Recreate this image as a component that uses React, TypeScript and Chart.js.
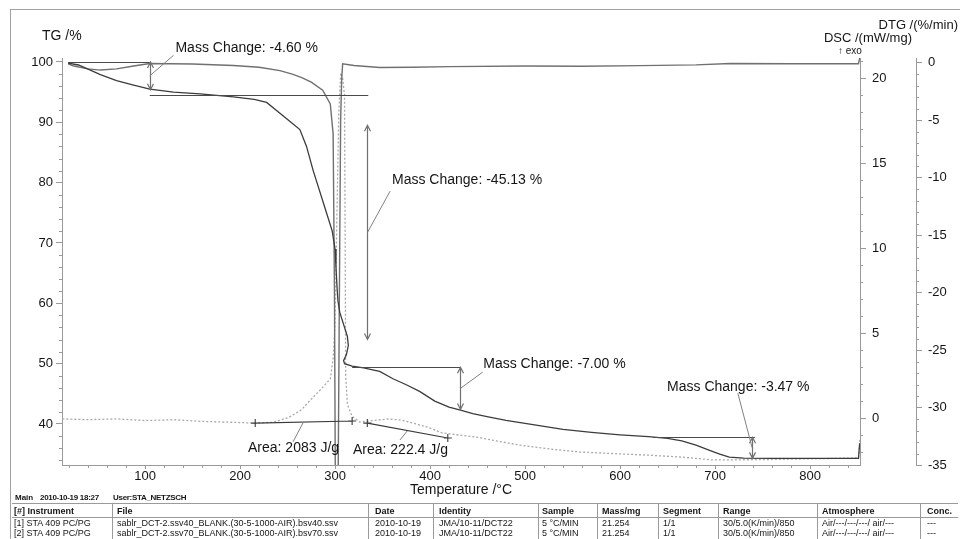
import React, { useEffect, useRef } from "react";
import { Chart, registerables } from "chart.js";

Chart.register(...registerables);

const FONT = '"Liberation Sans", Arial, Helvetica, sans-serif';

// ---------------- data (temperature °C -> value) ----------------
const tgTemp = [19, 30, 53, 70, 87, 105, 130, 158, 193, 215, 228, 242, 252, 263, 270, 277, 283, 290, 297, 300, 301, 302, 303, 305, 309, 313, 314, 312, 309, 310, 318, 330, 347, 361, 375, 389, 405, 420, 432, 445, 460, 480, 500, 520, 540, 570, 600, 630, 650, 665, 680, 695, 705, 715, 730, 760, 800, 851, 852.3];
const tgValue = [99.8, 99.5, 97.9, 96.9, 96.2, 95.5, 95.0, 94.7, 94.2, 93.8, 93.3, 91.5, 90.2, 88.8, 86.0, 82.0, 79.0, 75.5, 72.0, 69.0, 66.0, 63.0, 60.5, 58.5, 56.5, 54.5, 53.0, 51.5, 50.5, 50.0, 49.6, 49.3, 48.7, 47.5, 46.5, 45.4, 43.8, 42.8, 42.3, 41.7, 41.2, 40.6, 40.1, 39.6, 39.1, 38.6, 38.2, 37.9, 37.6, 37.2, 36.5, 35.6, 35.0, 34.5, 34.35, 34.3, 34.3, 34.3, 36.8];

const dtgTemp = [19, 25, 40, 53, 70, 88, 105, 150, 193, 220, 242, 255, 265, 275, 287, 295, 298, 299.4, 300.3, 303.3, 304.6, 305.9, 307, 308, 320, 347, 380, 421, 500, 560, 621, 680, 716, 780, 851, 852.3];
const dtgValue = [-0.1, -0.3, -0.55, -0.65, -0.55, -0.3, -0.08, -0.12, -0.25, -0.4, -0.7, -1.0, -1.3, -1.7, -2.4, -3.6, -6.2, -20, -36, -36, -20, -5, -1.5, -0.1, -0.25, -0.43, -0.4, -0.35, -0.3, -0.32, -0.26, -0.2, -0.08, -0.1, -0.1, 0.4];

const dscTemp = [13, 40, 70, 100, 130, 160, 190, 216, 235, 252, 265, 274, 287, 295, 298, 300, 302, 304, 306, 308, 310, 310.7, 311.2, 313, 318, 326, 340, 355, 370, 382, 398, 413, 430, 449, 470, 495, 530, 558, 595, 628, 665, 698, 750, 803, 851, 852.3];
const dscValue = [-0.05, -0.1, -0.05, -0.15, -0.1, -0.2, -0.25, -0.3, -0.25, 0.05, 0.5, 1.05, 1.8, 2.3, 3.5, 5.5, 12, 18, 20.3, 20.0, 19.0, 10, 2.5, 0.8, 0.1, -0.24, -0.15, -0.06, -0.12, -0.3, -0.55, -0.88, -1.0, -1.12, -1.35, -1.6, -1.85, -2.0, -2.1, -2.18, -2.3, -2.47, -2.45, -2.4, -2.35, -1.3];

// Mass-change evaluation (temperature, TG %)
const refLines = [
  [19, 105, 100],
  [105, 335, 94.5],
  [318, 432, 49.4],
  [635, 742, 37.8],
];
const massArrows = [
  [105, 100, 95.4],
  [334, 89.5, 54],
  [432, 49.4, 42.4],
  [739, 37.8, 34.3],
];
const massLabels = ["Mass Change: -4.60 %", "Mass Change: -45.13 %", "Mass Change: -7.00 %", "Mass Change: -3.47 %"];
const massLabelAt = [[132, 102.3], [360, 80.4], [456, 49.9], [649.5, 46.1]];
const massLeaders = [
  [105, 97.7, 130, 101.1],
  [334, 71.7, 358, 78.6],
  [432, 45.9, 455.5, 48.6],
  [739, 36.1, 724, 45.1],
];

// Peak areas (temperature, DSC mW/mg)
const areaBaselines = [
  [216, -0.3, 318, -0.18],
  [334, -0.3, 418.7, -1.18],
];
const areaLabels = ["Area: 2083 J/g", "Area: 222.4 J/g"];
const areaLabelAt = [[208.4, -1.76], [318.9, -1.88]];
const areaLeaders = [
  [266.3, -0.29, 255.8, -1.4],
  [376.8, -0.71, 368.4, -1.29],
];

// table
const tableHeaders = ["[#] Instrument", "File", "Date", "Identity", "Sample", "Mass/mg", "Segment", "Range", "Atmosphere", "Conc."];
const tableRow1 = ["[1] STA 409 PC/PG", "sablr_DCT-2.ssv40_BLANK.(30-5-1000-AIR).bsv40.ssv", "2010-10-19", "JMA/10-11/DCT22", "5 °C/MIN", "21.254", "1/1", "30/5.0(K/min)/850", "Air/---/---/---/ air/---", "---"];
const tableRow2 = ["[2] STA 409 PC/PG", "sablr_DCT-2.ssv70_BLANK.(30-5-1000-AIR).bsv70.ssv", "2010-10-19", "JMA/10-11/DCT22", "5 °C/MIN", "21.254", "1/1", "30/5.0(K/min)/850", "Air/---/---/---/ air/---", "---"];
const colX = [14, 117, 375, 439, 542, 602, 663, 723, 822, 927];
const sepX = [112, 368, 433, 538, 597, 658, 718, 817, 920];

const AXIS = "#9a9a9a";
const TXT = "#151515";

const pts = (xs: number[], ys: number[]) => xs.map((x, i) => ({ x, y: ys[i] }));

const overlayPlugin = {
  id: "taOverlay",
  afterDraw(chart: any) {
    const { ctx, chartArea: a } = chart;
    const xs = chart.scales.x;
    const tg = chart.scales.y;
    const dsc = chart.scales.y2;
    const dtg = chart.scales.y3;
    const X = (t: number) => xs.getPixelForValue(t);
    ctx.save();
    // minor ticks
    ctx.strokeStyle = AXIS;
    ctx.lineWidth = 1;
    ctx.beginPath();
    for (let t = 20; t <= 840; t += 20) {
      if (t % 100 === 0) continue;
      const p = Math.round(X(t)) + 0.5;
      ctx.moveTo(p, a.bottom);
      ctx.lineTo(p, a.bottom + 3);
    }
    for (let v = 34; v <= 100; v += 2) {
      if (v % 10 === 0) continue;
      const p = Math.round(tg.getPixelForValue(v)) + 0.5;
      ctx.moveTo(a.left, p);
      ctx.lineTo(a.left - 3, p);
    }
    for (let v = -2; v <= 21; v++) {
      if (v % 5 === 0) continue;
      const p = Math.round(dsc.getPixelForValue(v)) + 0.5;
      ctx.moveTo(dsc.left, p);
      ctx.lineTo(dsc.left + 3, p);
    }
    for (let v = -34; v <= 0; v++) {
      if (v % 5 === 0) continue;
      const p = Math.round(dtg.getPixelForValue(v)) + 0.5;
      ctx.moveTo(dtg.left, p);
      ctx.lineTo(dtg.left + 3, p);
    }
    ctx.stroke();

    // reference lines
    ctx.strokeStyle = "#4a4a4a";
    ctx.lineWidth = 1;
    ctx.beginPath();
    refLines.forEach(([t1, t2, v]) => {
      const y = Math.round(tg.getPixelForValue(v)) + 0.5;
      ctx.moveTo(X(t1), y);
      ctx.lineTo(X(t2), y);
    });
    ctx.stroke();

    // arrows
    ctx.strokeStyle = "#707070";
    ctx.lineWidth = 1.2;
    massArrows.forEach(([t, v1, v2]) => {
      const x = Math.round(X(t)) + 0.5;
      const y1 = tg.getPixelForValue(v1);
      const y2 = tg.getPixelForValue(v2);
      ctx.beginPath();
      ctx.moveTo(x, y1);
      ctx.lineTo(x, y2);
      ctx.moveTo(x - 3, y1 + 6);
      ctx.lineTo(x, y1);
      ctx.lineTo(x + 3, y1 + 6);
      ctx.moveTo(x - 3, y2 - 6);
      ctx.lineTo(x, y2);
      ctx.lineTo(x + 3, y2 - 6);
      ctx.stroke();
    });

    // leaders
    ctx.strokeStyle = "#808080";
    ctx.lineWidth = 1;
    ctx.beginPath();
    massLeaders.forEach(([t1, v1, t2, v2]) => {
      ctx.moveTo(X(t1), tg.getPixelForValue(v1));
      ctx.lineTo(X(t2), tg.getPixelForValue(v2));
    });
    areaLeaders.forEach(([t1, v1, t2, v2]) => {
      ctx.moveTo(X(t1), dsc.getPixelForValue(v1));
      ctx.lineTo(X(t2), dsc.getPixelForValue(v2));
    });
    ctx.stroke();

    // area baselines with + markers
    ctx.strokeStyle = "#3a3a3a";
    ctx.lineWidth = 1.1;
    areaBaselines.forEach(([t1, v1, t2, v2]) => {
      const xa = X(t1), ya = dsc.getPixelForValue(v1);
      const xb = X(t2), yb = dsc.getPixelForValue(v2);
      ctx.beginPath();
      ctx.moveTo(xa, ya);
      ctx.lineTo(xb, yb);
      [[xa, ya], [xb, yb]].forEach(([px, py]) => {
        ctx.moveTo(px - 4, py);
        ctx.lineTo(px + 4, py);
        ctx.moveTo(px, py - 4);
        ctx.lineTo(px, py + 4);
      });
      ctx.stroke();
    });

    // labels
    ctx.fillStyle = TXT;
    ctx.font = `14px ${FONT}`;
    ctx.textBaseline = "middle";
    ctx.textAlign = "left";
    massLabels.forEach((s, i) => {
      const [t, v] = massLabelAt[i];
      ctx.fillText(s, X(t), tg.getPixelForValue(v));
    });
    areaLabels.forEach((s, i) => {
      const [t, v] = areaLabelAt[i];
      ctx.fillText(s, X(t), dsc.getPixelForValue(v));
    });
    ctx.restore();
  },
};

export default function App() {
  const ref = useRef<HTMLCanvasElement>(null);
  useEffect(() => {
    document.body.style.margin = "0";
    const tickFont = { family: FONT, size: 13, lineHeight: 1 };
    const chart = new Chart(ref.current as HTMLCanvasElement, {
      type: "line",
      data: {
        datasets: [
          { label: "TG", data: pts(tgTemp, tgValue), yAxisID: "y", borderColor: "#3c3c3c", borderWidth: 1.3, pointRadius: 0, tension: 0 },
          { label: "DTG", data: pts(dtgTemp, dtgValue), yAxisID: "y3", borderColor: "#707070", borderWidth: 1.4, pointRadius: 0, tension: 0 },
          { label: "DSC", data: pts(dscTemp, dscValue), yAxisID: "y2", borderColor: "#a9a9a9", borderWidth: 1.3, borderDash: [2, 2], pointRadius: 0, tension: 0 },
        ],
      },
      options: {
        animation: false,
        responsive: false,
        devicePixelRatio: 1,
        events: [],
        layout: { padding: { top: 58, left: 0, right: 0, bottom: 40 } },
        plugins: { legend: { display: false }, tooltip: { enabled: false } },
        scales: {
          x: {
            type: "linear",
            min: 12.6,
            max: 852.6,
            afterFit: (s: any) => { s.height = 34; },
            border: { display: true, color: AXIS, width: 1 },
            grid: { drawOnChartArea: false, drawTicks: true, tickLength: 4, tickColor: AXIS },
            ticks: { stepSize: 100, includeBounds: false, color: TXT, font: tickFont, padding: 1, maxRotation: 0 },
            title: { display: true, text: "Temperature /°C", color: TXT, font: { family: FONT, size: 14 }, padding: { top: 0, bottom: 0 } },
          },
          y: {
            type: "linear",
            position: "left",
            min: 33.2,
            max: 100.66,
            afterFit: (s: any) => { s.width = 62; },
            border: { display: true, color: AXIS, width: 1 },
            grid: { drawOnChartArea: false, tickLength: 6, tickColor: AXIS },
            ticks: { stepSize: 10, includeBounds: false, color: TXT, font: tickFont, padding: 3 },
          },
          y2: {
            type: "linear",
            position: "right",
            weight: 0,
            min: -2.765,
            max: 21.18,
            afterFit: (s: any) => { s.width = 56; },
            border: { display: true, color: AXIS, width: 1 },
            grid: { drawOnChartArea: false, tickLength: 6, tickColor: AXIS },
            ticks: { stepSize: 5, includeBounds: false, color: TXT, font: tickFont, padding: 6 },
          },
          y3: {
            type: "linear",
            position: "right",
            weight: 1,
            min: -35,
            max: 0.4,
            afterFit: (s: any) => { s.width = 44; },
            border: { display: true, color: AXIS, width: 1 },
            grid: { drawOnChartArea: false, tickLength: 6, tickColor: AXIS },
            ticks: { stepSize: 5, includeBounds: false, color: TXT, font: tickFont, padding: 6 },
          },
        },
      } as any,
      plugins: [overlayPlugin],
    });
    return () => chart.destroy();
  }, []);

  const txt = (s: string, left: number, cy: number, size: number, bold = false, key?: string, ls = 0) => (
    <span
      key={key}
      style={{ position: "absolute", left, top: cy - size / 2, fontSize: size, lineHeight: `${size}px`, fontWeight: bold ? "bold" : "normal", letterSpacing: ls, whiteSpace: "nowrap", color: TXT }}
    >
      {s}
    </span>
  );
  const txtR = (s: string, right: number, cy: number, size: number) => (
    <span style={{ position: "absolute", right: 960 - right, top: cy - size / 2, fontSize: size, lineHeight: `${size}px`, whiteSpace: "nowrap", color: TXT }}>{s}</span>
  );

  return (
    <div style={{ position: "relative", width: 960, height: 539, background: "#fff", overflow: "hidden", fontFamily: FONT }}>
      <div style={{ position: "absolute", left: 10, top: 9, width: 960, height: 540, borderTop: "1px solid #a0a0a0", borderLeft: "1px solid #a0a0a0" }} />
      <canvas ref={ref} width={960} height={539} style={{ position: "absolute", left: 0, top: 0, width: 960, height: 539 }} />
      {txt("TG /%", 42, 35, 14)}
      {txtR("DTG /(%/min)", 958, 24, 13)}
      {txtR("DSC /(mW/mg)", 912, 37, 13)}
      {txt("↑ exo", 838, 51, 10)}
      {txt("Main", 15, 498, 8, true)}
      {txt("2010-10-19 18:27", 40, 498, 8, true, undefined, -0.3)}
      {txt("User:STA_NETZSCH", 113, 498, 8, true, undefined, -0.3)}
      <div style={{ position: "absolute", left: 12, top: 503, width: 946, height: 1, background: "#9a9a9a" }} />
      <div style={{ position: "absolute", left: 12, top: 517, width: 946, height: 1, background: "#9a9a9a" }} />
      {sepX.map((x, i) => (
        <div key={"s" + i} style={{ position: "absolute", left: x, top: 503, width: 1, height: 36, background: "#9a9a9a" }} />
      ))}
      {tableHeaders.map((h, i) => txt(h, colX[i], 511, 9, true, "h" + i))}
      {tableRow1.map((c, i) => txt(c, colX[i], 523.5, 9, false, "a" + i))}
      {tableRow2.map((c, i) => txt(c, colX[i], 533.5, 9, false, "b" + i))}
    </div>
  );
}
